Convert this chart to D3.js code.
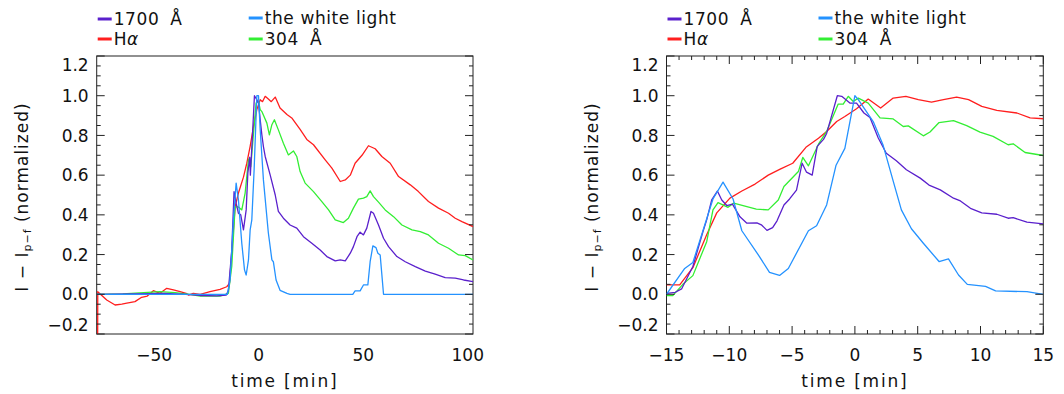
<!DOCTYPE html>
<html>
<head>
<meta charset="utf-8">
<script src="https://cdn.jsdelivr.net/npm/d3@7"></script>
<style>
  body { margin: 0; background: #fff; }
  svg text { font-family: "DejaVu Sans", sans-serif; fill: #111; }
</style>
</head>
<body>
<svg id="chart" width="1064" height="394"></svg>
<script>
// ---- data (time in minutes, normalized intensity) ----
const seriesNames = ['1700 Å', 'the white light', 'Hα', '304 Å']
const seriesColors = ['#5a20cc', '#2492ff', '#ff1e1e', '#33ee33']

// left panel: full event
const full1700 = [[-77.5,0.0],[-60,0.002],[-45,0.004],[-35,0.0],[-28,-0.006],[-20,-0.008],[-15.5,-0.004],[-14.5,0.02],[-12.9,0.22],[-11.8,0.517],[-10.8,0.459],[-9.7,0.408],[-8.6,0.4],[-7.3,0.324],[-6.0,0.425],[-5.2,0.61],[-4.3,0.69],[-4.0,0.6],[-3,0.8],[-2.05,1.0],[-0.9,0.98],[-0.1,0.963],[0.7,0.88],[1.5,0.803],[2.25,0.744],[3.1,0.694],[5.5,0.6],[7.9,0.5],[9.4,0.417],[11.8,0.383],[15,0.349],[18.2,0.333],[21.4,0.29],[25.4,0.257],[29.4,0.223],[32.6,0.19],[36.6,0.168],[39,0.173],[41.4,0.168],[43.8,0.207],[45.3,0.24],[47,0.29],[48.5,0.313],[50.1,0.299],[51.7,0.333],[53.7,0.417],[54.9,0.408],[57.3,0.349],[59.7,0.282],[62.1,0.24],[66.1,0.19],[70.1,0.164],[74.9,0.139],[79.7,0.117],[84.4,0.101],[89.2,0.084],[94,0.081],[98,0.072],[102.5,0.064]]
const fullWhite = [[-77.5,0.0],[-15,0.0],[-13.7,0.072],[-12.1,0.375],[-10.8,0.56],[-9.7,0.475],[-8.1,0.257],[-6.8,0.123],[-6.0,0.097],[-4.9,0.173],[-4.1,0.324],[-3.3,0.375],[-2.2,0.627],[-0.9,1.0],[-0.1,1.0],[0.7,0.83],[2.25,0.576],[4.6,0.31],[6.3,0.173],[7.0,0.164],[8.3,0.072],[10.2,0.02],[13.5,0.005],[15,0.0],[45,0.0],[46.1,0.017],[48.5,0.017],[50.1,0.047],[52.2,0.047],[53.3,0.164],[54.6,0.244],[56.1,0.235],[57,0.207],[58.1,0.198],[59.7,0.0],[102.5,0.0]]
const fullHalpha = [[-77.05,-0.3],[-77.0,0.013],[-72.7,-0.029],[-68.7,-0.054],[-65.5,-0.05],[-63.1,-0.045],[-59.2,-0.037],[-56,-0.015],[-53.3,-0.009],[-50.4,0.018],[-47.2,0.005],[-44,0.03],[-40.8,0.022],[-37.6,0.013],[-34.75,0.005],[-33.6,-0.004],[-31.3,0.005],[-28,0.0],[-23.3,0.013],[-18.5,0.025],[-15.3,0.038],[-14,0.055],[-13.4,0.14],[-11.3,0.44],[-9.7,0.51],[-7.3,0.59],[-5.7,0.66],[-4.1,0.745],[-2.5,0.845],[-0.9,0.93],[0.7,0.98],[1.8,0.97],[3.1,0.997],[4.6,0.983],[6,0.97],[7.9,0.993],[10.2,0.938],[13.5,0.905],[15.8,0.888],[19.8,0.83],[23,0.78],[26.2,0.753],[31.8,0.677],[35,0.635],[39,0.568],[41.4,0.576],[43.8,0.6],[46.1,0.66],[49.4,0.7],[52.5,0.748],[55.7,0.733],[58.9,0.694],[62.9,0.66],[66.9,0.593],[72.5,0.551],[76.4,0.517],[81.2,0.467],[86,0.434],[90.8,0.408],[94,0.383],[97.2,0.366],[102.5,0.341]]
const full304 = [[-77.5,0.0],[-65,0.002],[-55,0.008],[-47.2,0.013],[-40,0.008],[-33,0.0],[-28,-0.009],[-18.5,-0.009],[-14.5,0.005],[-12.9,0.14],[-11.3,0.44],[-9.7,0.44],[-8.1,0.425],[-6.5,0.51],[-4.9,0.677],[-4.45,0.686],[-3.8,0.643],[-2.5,0.81],[-1.25,0.963],[-0.1,0.971],[0.7,0.93],[1.5,0.92],[3.9,0.862],[5.1,0.803],[6.3,0.854],[7.5,0.879],[9.4,0.828],[11.8,0.761],[14.2,0.702],[16.6,0.722],[18.2,0.694],[19.8,0.618],[22.2,0.56],[26.2,0.517],[30.2,0.467],[33.4,0.425],[36.6,0.375],[40.5,0.361],[42.9,0.383],[45.3,0.434],[47.7,0.479],[50.1,0.484],[51.7,0.492],[53.3,0.521],[54.9,0.492],[57.3,0.464],[60.5,0.425],[64.5,0.391],[68.5,0.349],[73.3,0.324],[77.3,0.316],[81.2,0.299],[86,0.257],[90.8,0.232],[95.6,0.198],[98.8,0.195],[102.5,0.173]]

// right panel: zoom on the peak
const zoom1700 = [[-15,0.005],[-14.3,0.01],[-13.8,0.027],[-12.9,0.14],[-12.1,0.315],[-11.8,0.375],[-11.4,0.475],[-10.95,0.52],[-10.6,0.475],[-10.2,0.447],[-9.75,0.454],[-9.15,0.39],[-8.6,0.358],[-7.8,0.36],[-7.45,0.35],[-7.0,0.322],[-6.55,0.336],[-6.2,0.37],[-5.65,0.45],[-5.2,0.48],[-4.65,0.525],[-4.2,0.66],[-3.85,0.615],[-3.4,0.6],[-3.0,0.745],[-2.5,0.78],[-2.25,0.81],[-1.4,1.0],[-1.05,0.997],[-0.4,0.963],[0.13,0.963],[0.72,0.913],[1.2,0.89],[1.86,0.787],[2.5,0.71],[3.3,0.672],[4.1,0.627],[5.2,0.585],[5.9,0.55],[6.8,0.526],[7.85,0.484],[8.4,0.47],[9.2,0.433],[10.1,0.41],[11.3,0.403],[12.2,0.383],[12.6,0.386],[13.7,0.363],[15,0.355]]
const zoomWhite = [[-15,0.0],[-13.55,0.13],[-12.9,0.16],[-11.3,0.48],[-10.5,0.565],[-9.7,0.48],[-9.0,0.32],[-7.6,0.19],[-6.8,0.11],[-6.0,0.095],[-5.3,0.13],[-3.7,0.32],[-3.05,0.345],[-2.25,0.45],[-1.5,0.65],[-0.8,0.735],[0,1.0],[0.27,0.98],[1.46,0.87],[2.25,0.75],[3.05,0.57],[3.7,0.425],[4.5,0.33],[5.45,0.257],[6.7,0.165],[7.45,0.178],[8.25,0.097],[8.95,0.05],[10.4,0.04],[11.2,0.017],[13.7,0.013],[15,0.0]]
const zoomHalpha = [[-15,0.047],[-13.95,0.047],[-12.9,0.134],[-11.8,0.3],[-11.0,0.41],[-9.95,0.484],[-9.0,0.52],[-7.95,0.555],[-6.9,0.6],[-5.95,0.63],[-4.95,0.66],[-3.9,0.74],[-2.9,0.786],[-2.25,0.82],[-1.45,0.87],[-0.8,0.895],[0.13,0.934],[1.06,0.983],[2.05,0.938],[3.05,0.988],[4.06,0.997],[5.05,0.98],[6.1,0.968],[7.05,0.98],[8.1,0.993],[9.05,0.98],[10.1,0.946],[11.3,0.926],[12.9,0.913],[13.95,0.888],[15,0.884]]
const zoom304 = [[-15,-0.007],[-14.5,-0.007],[-13.7,0.05],[-12.9,0.094],[-11.8,0.265],[-11.3,0.425],[-10.9,0.462],[-10.1,0.438],[-9.65,0.459],[-7.85,0.429],[-6.9,0.425],[-6.1,0.475],[-5.65,0.543],[-4.5,0.618],[-4.15,0.689],[-3.7,0.647],[-2.9,0.756],[-2.25,0.82],[-1.33,0.958],[-0.93,0.958],[-0.53,0.997],[-0.13,0.971],[0.27,0.988],[1.06,0.963],[2.0,0.888],[3.05,0.883],[3.85,0.845],[4.25,0.848],[5.45,0.798],[5.98,0.817],[6.7,0.865],[7.85,0.875],[8.9,0.849],[9.96,0.817],[11.0,0.795],[12.2,0.753],[12.6,0.758],[13.55,0.714],[15,0.699]]

const yTicks = [-0.2, 0, 0.2, 0.4, 0.6, 0.8, 1.0, 1.2]
const leftXTicks = [-50, 0, 50, 100]
const rightXTicks = [-15, -10, -5, 0, 5, 10, 15]

const svg = d3.select('#chart')
const fmtMinus = s => s.replace('-', '\u2212')

function drawPanel(id, left, right, xDomain, xTicks, xMinorStep, lines) {
    const top = 56, bottom = 334
    const x = d3.scaleLinear().domain(xDomain).range([left, right])
    const y = d3.scaleLinear().domain([-0.2, 1.2]).range([bottom, top])

    const g = svg.append('g').attr('class', id)

    g.append('clipPath').attr('id', 'clip-' + id)
        .append('rect')
        .attr('x', left).attr('y', top)
        .attr('width', right - left).attr('height', bottom - top)

    // frame
    g.append('rect')
        .attr('x', left).attr('y', top)
        .attr('width', right - left).attr('height', bottom - top)
        .attr('fill', 'none').attr('stroke', '#222').attr('stroke-width', 1)

    // curves
    const line = d3.line().x(d => x(d[0])).y(d => y(d[1]))
    const order = [2, 3, 0, 1]
    order.forEach(i => {
        g.append('path')
            .attr('clip-path', `url(#clip-${id})`)
            .attr('d', line(lines[i]))
            .attr('fill', 'none')
            .attr('stroke', seriesColors[i])
            .attr('stroke-width', 1.3)
            .attr('stroke-linejoin', 'round')
    })

    // y ticks, both sides
    const yMinor = d3.range(-0.2, 1.2001, 0.05)
    const ticks = g.append('g').attr('stroke', '#222').attr('stroke-width', 1)
    yMinor.forEach(v => {
        const major = Math.abs(Math.round(v / 0.2) * 0.2 - v) < 1e-6
        const len = major ? 8 : 4
        ticks.append('line').attr('x1', left).attr('x2', left + len)
            .attr('y1', y(v)).attr('y2', y(v))
        ticks.append('line').attr('x1', right).attr('x2', right - len)
            .attr('y1', y(v)).attr('y2', y(v))
    })

    // x ticks, top and bottom
    const xMinor = d3.range(xDomain[0], xDomain[1] + 1e-6, 1)
        .filter(v => Math.abs(v / xMinorStep - Math.round(v / xMinorStep)) < 1e-6)
    const majorStep = xTicks[1] - xTicks[0]
    xMinor.forEach(v => {
        const major = Math.abs(v / majorStep - Math.round(v / majorStep)) < 1e-6
        const len = major ? 8 : 4
        ticks.append('line').attr('x1', x(v)).attr('x2', x(v))
            .attr('y1', bottom).attr('y2', bottom - len)
        ticks.append('line').attr('x1', x(v)).attr('x2', x(v))
            .attr('y1', top).attr('y2', top + len)
    })

    // y labels (edge labels pushed inside like IDL does)
    g.append('g').selectAll('text')
        .data(yTicks)
        .join('text')
        .attr('x', left - 8)
        .attr('y', d => y(d) + (d === 1.2 ? 9 : d === -0.2 ? -9 : 0))
        .attr('dy', '0.36em')
        .attr('text-anchor', 'end')
        .style('font-size', '17px')
        .text(d => fmtMinus(d.toFixed(1)))

    // x labels
    g.append('g').selectAll('text')
        .data(xTicks)
        .join('text')
        .attr('x', d => x(d))
        .attr('y', 355)
        .attr('dy', '0.36em')
        .attr('text-anchor', 'middle')
        .style('font-size', '17px')
        .text(d => fmtMinus(String(d)))

    g.append('text')
        .attr('x', (left + right) / 2)
        .attr('y', 381)
        .attr('dy', '0.36em')
        .attr('text-anchor', 'middle')
        .style('font-size', '17px')
        .style('letter-spacing', '1.8px')
        .text('time [min]')

    // y title
    const yt = g.append('text')
        .attr('transform', `translate(${left - 75},${(top + bottom) / 2 + 2}) rotate(-90)`)
        .attr('text-anchor', 'middle')
        .attr('dy', '0.36em')
        .style('font-size', '17px')
        .style('letter-spacing', '1px')
    yt.append('tspan').text('I \u2212 I')
    yt.append('tspan').attr('baseline-shift', '-30%').style('font-size', '11px').text('p\u2212f')
    yt.append('tspan').text(' (normalized)')

    // legend
    const legendPos = [[left + 1, 19], [left + 152, 18], [left + 1, 39], [left + 152, 39]]
    seriesNames.forEach((name, i) => {
        const [lx, ly] = legendPos[i]
        g.append('line')
            .attr('x1', lx).attr('x2', lx + 14)
            .attr('y1', ly).attr('y2', ly)
            .attr('stroke', seriesColors[i]).attr('stroke-width', 3)
        const t = g.append('text')
            .attr('x', lx + 16).attr('y', ly)
            .attr('dy', '0.36em')
            .style('font-size', '17px')
            .style('letter-spacing', '0.6px')
        if (name === 'Hα') {
            t.append('tspan').text('H')
            t.append('tspan').style('font-style', 'italic').text('α')
        } else if (name.endsWith('Å')) {
            t.append('tspan').text(name.slice(0, -2))
            t.append('tspan').attr('dx', 11).text('Å')
        } else {
            t.text(name)
        }
    })
}

drawPanel('left', 96.7, 473, [-77.5, 102.5], leftXTicks, 10, [full1700, fullWhite, fullHalpha, full304])
drawPanel('right', 666.5, 1043.3, [-15, 15], rightXTicks, 1, [zoom1700, zoomWhite, zoomHalpha, zoom304])
</script>
</body>
</html>
